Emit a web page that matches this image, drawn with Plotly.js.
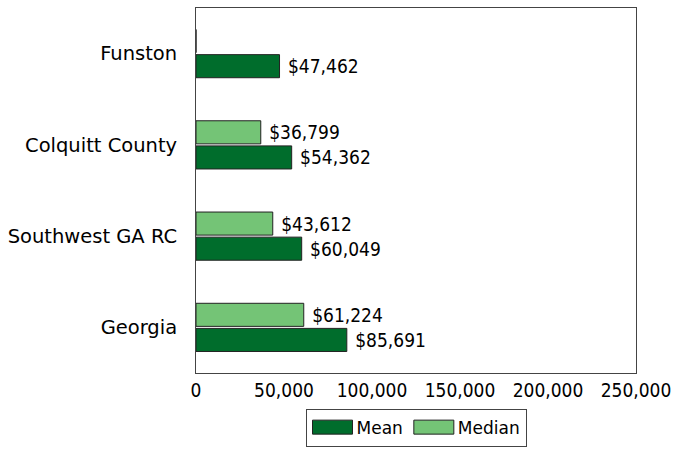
<!DOCTYPE html>
<html><head><meta charset="utf-8">
<script src="https://cdn.plot.ly/plotly-3.0.1.min.js"></script>
<style>body{margin:0;background:#fff}#c{width:676px;height:449px}</style>
</head><body><div id="c"></div>
<script>
const categories = ['Funston', 'Colquitt County', 'Southwest GA RC', 'Georgia'];
const meanValues = [47462, 54362, 60049, 85691];
const medianValues = [0, 36799, 43612, 61224];
const meanLabels = ['$47,462', '$54,362', '$60,049', '$85,691'];
const medianLabels = ['', '$36,799', '$43,612', '$61,224'];
const tickVals = [0, 50000, 100000, 150000, 200000, 250000];
const tickText = ['0', '50,000', '100,000', '150,000', '200,000', '250,000'];

const font = {family: 'DejaVu Sans Condensed, DejaVu Sans, sans-serif', size: 19, color: '#000'};
const catFont = {family: 'DejaVu Sans, sans-serif', size: 19.5, color: '#000'};
const legFont = {family: 'DejaVu Sans, sans-serif', size: 17, color: '#000'};
const traces = [
  {type: 'bar', orientation: 'h', name: 'Mean', y: categories, x: meanValues,
   text: meanLabels.map(s => s ? '\u00a0' + s : s), textposition: 'outside', textfont: font, cliponaxis: false,
   marker: {color: '#006d2c', line: {color: '#222', width: 1}}},
  {type: 'bar', orientation: 'h', name: 'Median', y: categories, x: medianValues,
   text: medianLabels.map(s => s ? '\u00a0' + s : s), textposition: 'outside', textfont: font, cliponaxis: false,
   marker: {color: '#74c476', line: {color: '#222', width: 1}}}
];
const layout = {
  width: 676, height: 449,
  margin: {l: 196, r: 40, t: 8, b: 76, autoexpand: false},
  paper_bgcolor: '#fff', plot_bgcolor: '#fff',
  font: font,
  barmode: 'group', bargap: 0.45, bargroupgap: 0.08,
  showlegend: true,
  legend: {orientation: 'h', x: 0.5, xanchor: 'center', yref: 'container', y: 0.09, yanchor: 'top',
           bordercolor: '#444', borderwidth: 1, font: legFont, traceorder: 'normal',
           itemwidth: 40, tracegroupgap: 0},
  xaxis: {range: [0, 250000], tickvals: tickVals, ticktext: tickText, showgrid: false,
          zeroline: false, showline: true, mirror: true, linecolor: '#444', linewidth: 1,
          ticks: '', ticklabelstandoff: 0, tickfont: font, fixedrange: true, automargin: false},
  yaxis: {type: 'category', categoryorder: 'array', categoryarray: categories.slice().reverse(),
          showgrid: false, zeroline: false, showline: true, mirror: true, linecolor: '#444',
          linewidth: 1, ticks: '', ticklabelstandoff: 14, tickfont: catFont, fixedrange: true, automargin: false}
};
Plotly.newPlot('c', traces, layout, {displayModeBar: false, staticPlot: true}).then(gd => {
  gd.querySelectorAll('.legend .legendpoints path').forEach(p => {
    p.setAttribute('d', 'M-19,-7H21V7H-19Z');
  });
});
</script></body></html>
